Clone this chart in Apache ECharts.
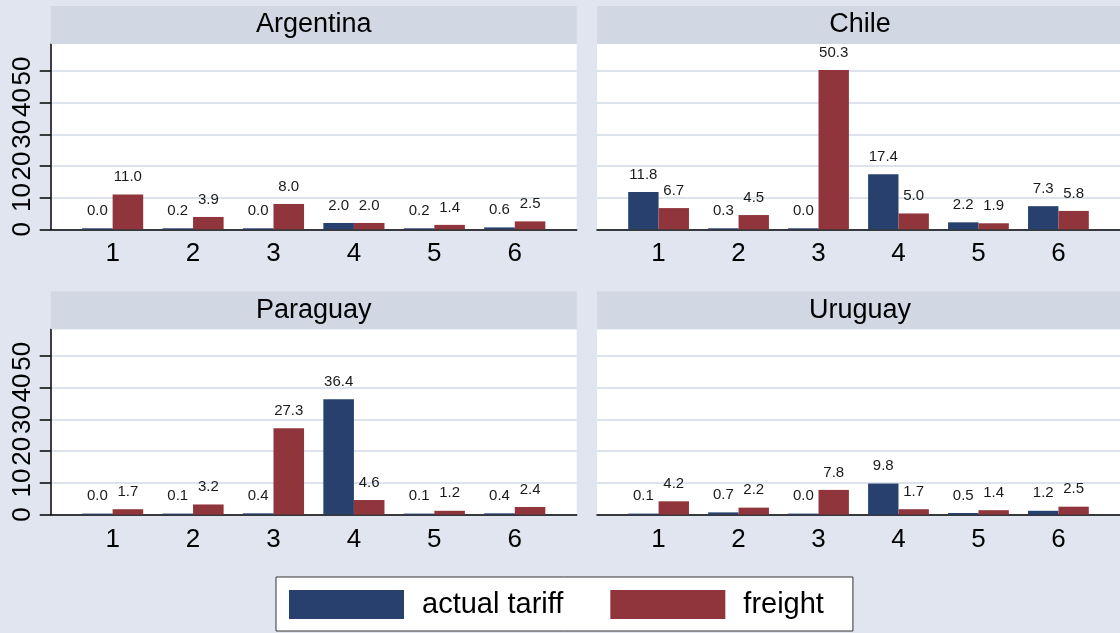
<!DOCTYPE html>
<html>
<head>
<meta charset="utf-8">
<script src="https://cdn.jsdelivr.net/npm/echarts@6/dist/echarts.min.js"></script>
<style>
  html, body { margin: 0; padding: 0; background: #e0e5ef; }
  #chart { width: 1120px; height: 633px; }
</style>
</head>
<body>
<div id="chart"></div>
<script>
// Product groups on the x axis
const categories = [1, 2, 3, 4, 5, 6];
const countries = ['Argentina', 'Chile', 'Paraguay', 'Uruguay'];
const seriesNames = ['actual tariff', 'freight'];
const yTicks = [0, 10, 20, 30, 40, 50];

// Values per country (percent)
const argentinaTariff  = [0.0, 0.2, 0.0, 2.0, 0.2, 0.6];
const argentinaFreight = [11.0, 3.9, 8.0, 2.0, 1.4, 2.5];
const chileTariff      = [11.8, 0.3, 0.0, 17.4, 2.2, 7.3];
const chileFreight     = [6.7, 4.5, 50.3, 5.0, 1.9, 5.8];
const paraguayTariff   = [0.0, 0.1, 0.4, 36.4, 0.1, 0.4];
const paraguayFreight  = [1.7, 3.2, 27.3, 4.6, 1.2, 2.4];
const uruguayTariff    = [0.1, 0.7, 0.0, 9.8, 0.5, 1.2];
const uruguayFreight   = [4.2, 2.2, 7.8, 1.7, 1.4, 2.5];

const panelValues = [
  [argentinaTariff, argentinaFreight],
  [chileTariff, chileFreight],
  [paraguayTariff, paraguayFreight],
  [uruguayTariff, uruguayFreight]
];

const FONT = '"Liberation Sans", Arial, Helvetica, sans-serif';
const BAR_COLORS = ['#27406e', '#90353b'];
const STRIP_COLOR = '#d1d8e3';
const GRID_LINE = '#dde3ec';

// Panel layout (pixels)
const COL_X = [50.7, 597];
const ROW_Y = [44, 329.3];
const PANEL_W = 526;
const PANEL_H = 185.3;
const STRIP_H = 38;

const grids = [], xAxes = [], yAxes = [], series = [], graphics = [];

countries.forEach((name, i) => {
  const col = i % 2, row = Math.floor(i / 2);
  const left = COL_X[col], top = ROW_Y[row];

  grids.push({
    left: left, top: top, width: PANEL_W, height: PANEL_H,
    show: true, backgroundColor: '#ffffff', borderWidth: 0
  });

  xAxes.push({
    type: 'value', gridIndex: i, min: 0.23, max: 6.77,
    axisLine: { show: true, onZero: false, lineStyle: { color: '#000', width: 1.5 } },
    axisTick: { show: false },
    splitLine: { show: false },
    axisLabel: {
      customValues: categories, margin: 12,
      fontSize: 26, fontFamily: FONT, color: '#000'
    }
  });

  const isLeft = col === 0;
  yAxes.push({
    type: 'value', gridIndex: i, min: 0, max: 58.5, interval: 10,
    axisLine: { show: isLeft, lineStyle: { color: '#000', width: 1.5 } },
    axisTick: {
      show: isLeft, length: 11, customValues: yTicks,
      lineStyle: { color: '#000', width: 1.5 }
    },
    axisLabel: {
      show: isLeft, customValues: yTicks, rotate: 90, margin: 15,
      fontSize: 26, fontFamily: FONT, color: '#000'
    },
    splitLine: { show: true, lineStyle: { color: GRID_LINE, width: 2 } }
  });

  panelValues[i].forEach((vals, k) => {
    series.push({
      type: 'bar',
      name: seriesNames[k],
      xAxisIndex: i, yAxisIndex: i,
      data: categories.map((c, j) => [c, vals[j]]),
      barWidth: '38%',
      barGap: '0%',
      barMinHeight: 1,
      itemStyle: { color: BAR_COLORS[k] },
      label: {
        show: true, position: 'top', distance: 10,
        fontSize: 15, fontFamily: FONT, color: '#1a1a1a',
        formatter: p => p.value[1].toFixed(1)
      }
    });
  });

  // Panel header strip with the country name
  graphics.push({
    type: 'rect', silent: true, z: 1,
    shape: { x: left, y: top - STRIP_H, width: PANEL_W, height: STRIP_H },
    style: { fill: STRIP_COLOR }
  });
  graphics.push({
    type: 'text', silent: true, z: 2,
    x: left + PANEL_W / 2, y: top - STRIP_H / 2,
    style: {
      text: name, fontSize: 27, fontFamily: FONT, fill: '#000',
      align: 'center', verticalAlign: 'middle'
    }
  });
});

const chart = echarts.init(document.getElementById('chart'), null, { renderer: 'canvas' });
chart.setOption({
  backgroundColor: '#e0e5ef',
  animation: false,
  grid: grids,
  xAxis: xAxes,
  yAxis: yAxes,
  series: series,
  graphic: graphics,
  legend: {
    data: seriesNames,
    left: 276, top: 577,
    orient: 'horizontal',
    icon: 'rect',
    itemWidth: 115, itemHeight: 29, itemGap: 47,
    padding: [13, 29, 12, 13],
    backgroundColor: '#ffffff',
    borderColor: '#333333', borderWidth: 1,
    selectedMode: false,
    textStyle: { fontSize: 29, fontFamily: FONT, color: '#000', padding: [0, 8, 0, 13] }
  }
});
</script>
</body>
</html>
